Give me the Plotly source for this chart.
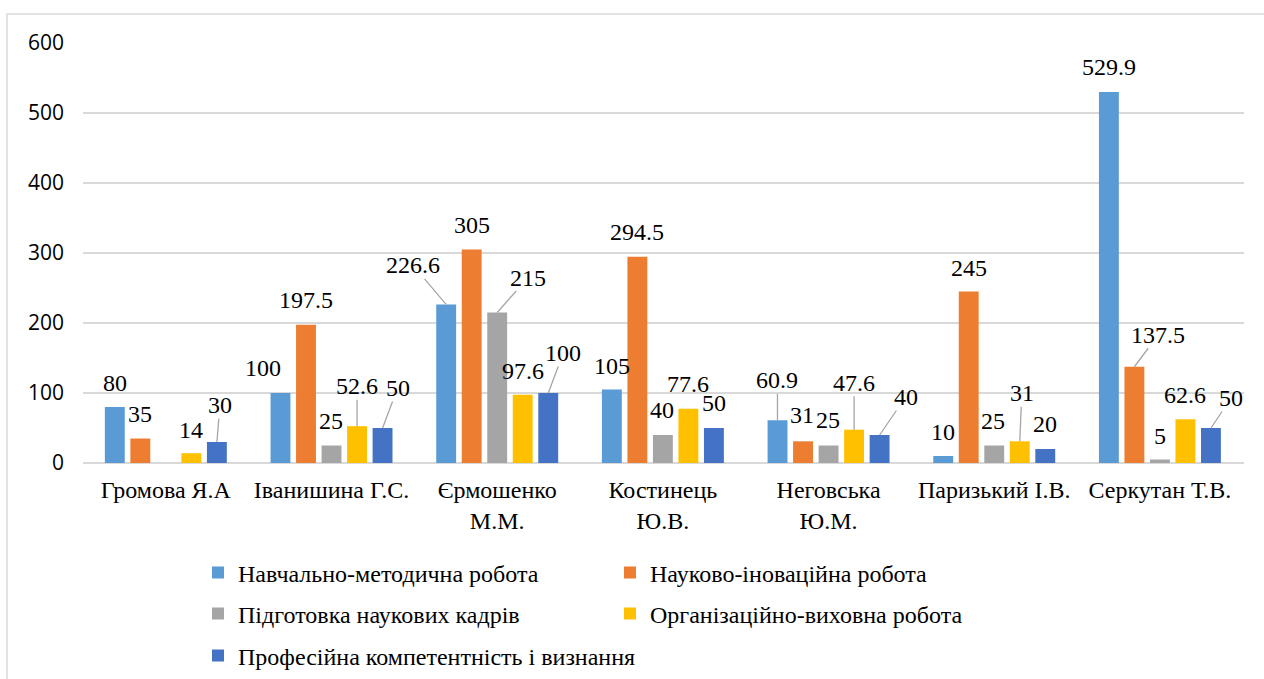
import plotly.graph_objects as go

# ---- data ----
categories = ["Громова Я.А", "Іванишина Г.С.", "Єрмошенко<br>М.М.", "Костинець<br>Ю.В.",
              "Неговська<br>Ю.М.", "Паризький І.В.", "Серкутан Т.В."]
series_names = ["Навчально-методична робота", "Науково-іноваційна робота",
                "Підготовка наукових кадрів", "Організаційно-виховна робота",
                "Професійна компетентність і визнання"]
navch_metod = [80, 100, 226.6, 105, 60.9, 10, 529.9]
nauk_inov = [35, 197.5, 305, 294.5, 31, 245, 137.5]
pidg_kadriv = [None, 25, 215, 40, 25, 25, 5]
org_vykh = [14, 52.6, 97.6, 77.6, 47.6, 31, 62.6]
prof_komp = [30, 50, 100, 50, 40, 20, 50]
series_values = [navch_metod, nauk_inov, pidg_kadriv, org_vykh, prof_komp]
y_ticks = [0, 100, 200, 300, 400, 500, 600]

# ---- style ----
colors = ["#5B9BD5", "#ED7D31", "#A5A5A5", "#FFC000", "#4472C4"]
W, H = 1264, 679
ML, MR, MT, MB = 83, 20, 43, 216
BARGAP, BARGROUPGAP = 0.23, 0.22
plot_w = W - ML - MR
plot_h = H - MT - MB
slot = plot_w / len(categories) * (1 - BARGAP) / len(series_names)

# label nudges (dx, dy in screen px, leader line) per series / category
label_pos = [
    [(0, -24, 0), (-17, -25, 0), (-33, -39, 1), (0, -24, 0), (0, -40, 1), (0, -24, 0), (0, -25, 0)],
    [(0, -25, 0), (0, -25, 0), (0, -25, 0), (0, -25, 0), (-1, -26, 0), (0, -24, 0), (24, -32, 1)],
    [None, (-1, -25, 0), (31, -35, 1), (-1, -25, 0), (-1, -26, 0), (-1, -25, 0), (0, -24, 0)],
    [(0, -23, 0), (0, -40, 1), (0, -24, 0), (0, -25, 0), (0, -47, 1), (2, -48, 1), (0, -24, 0)],
    [(3, -37, 1), (15, -40, 1), (15, -40, 1), (0, -25, 0), (26, -38, 1), (0, -25, 0), (20, -30, 1)],
]

SERIF = "'Liberation Serif', 'Times New Roman', serif"
legend_names = ["legend", "legend", "legend2", "legend2", "legend3"]

fig = go.Figure()
for i, (name, vals) in enumerate(zip(series_names, series_values)):
    fig.add_trace(go.Bar(
        x=categories, y=vals, name=name, marker_color=colors[i],
        marker_line_width=0, legend=legend_names[i], hoverinfo="x+y+name",
    ))

annotations = []
for i, vals in enumerate(series_values):
    off = (i - (len(series_names) - 1) / 2) * slot
    for j, v in enumerate(vals):
        if v is None or label_pos[i][j] is None:
            continue
        dx, dy, leader = label_pos[i][j]
        txt = f"{v:g}"
        if leader:
            annotations.append(dict(
                x=categories[j], y=v, xref="x", yref="y", xshift=off,
                text=txt, showarrow=True, ax=dx, ay=dy, arrowhead=0,
                arrowwidth=1.3, arrowcolor="#a6a6a6", standoff=0, borderpad=0,
                font=dict(family=SERIF, size=24, color="#000000")))
        else:
            annotations.append(dict(
                x=categories[j], y=v, xref="x", yref="y", xshift=off + dx,
                yshift=-dy, text=txt, showarrow=False,
                font=dict(family=SERIF, size=24, color="#000000")))

def py(pix):
    return 1 - (pix - MT) / plot_h

def px(pix):
    return (pix - ML) / plot_w

legend_common = dict(orientation="h", xanchor="left", yanchor="middle",
                     entrywidthmode="pixels",
                     font=dict(family=SERIF, size=24, color="#000000"),
                     bgcolor="rgba(0,0,0,0)", itemclick=False, itemdoubleclick=False)

fig.update_layout(
    width=W, height=H,
    font=dict(family=SERIF),
    margin=dict(l=ML, r=MR, t=MT, b=MB, autoexpand=False),
    paper_bgcolor="white", plot_bgcolor="white",
    barmode="group", bargap=BARGAP, bargroupgap=BARGROUPGAP,
    showlegend=True,
    legend=dict(x=px(198), y=py(573), entrywidth=367, **legend_common),
    legend2=dict(x=px(198), y=py(614), entrywidth=367, **legend_common),
    legend3=dict(x=px(198), y=py(656), entrywidth=520, **legend_common),
    xaxis=dict(showgrid=False, showline=False, ticks="", ticklabelstandoff=10,
               tickfont=dict(family=SERIF, size=24, color="#000000")),
    yaxis=dict(range=[0, 600], tickvals=y_ticks, showgrid=True, gridcolor="#d9d9d9",
               gridwidth=1.5, zeroline=True, zerolinecolor="#d9d9d9", zerolinewidth=1.5,
               showline=False, ticks="", ticklabelstandoff=18,
               tickfont=dict(family="Open Sans", size=21, color="#000000")),
    annotations=annotations,
    shapes=[dict(type="rect", xref="paper", yref="paper",
                 x0=px(7), x1=px(W + 10), y0=py(H + 10), y1=py(14),
                 line=dict(color="#d9d9d9", width=1.5), fillcolor="rgba(0,0,0,0)",
                 layer="below")],
)

fig.write_html("out.html", config={"displayModeBar": False},
               post_script="document.body.style.margin='0';")
